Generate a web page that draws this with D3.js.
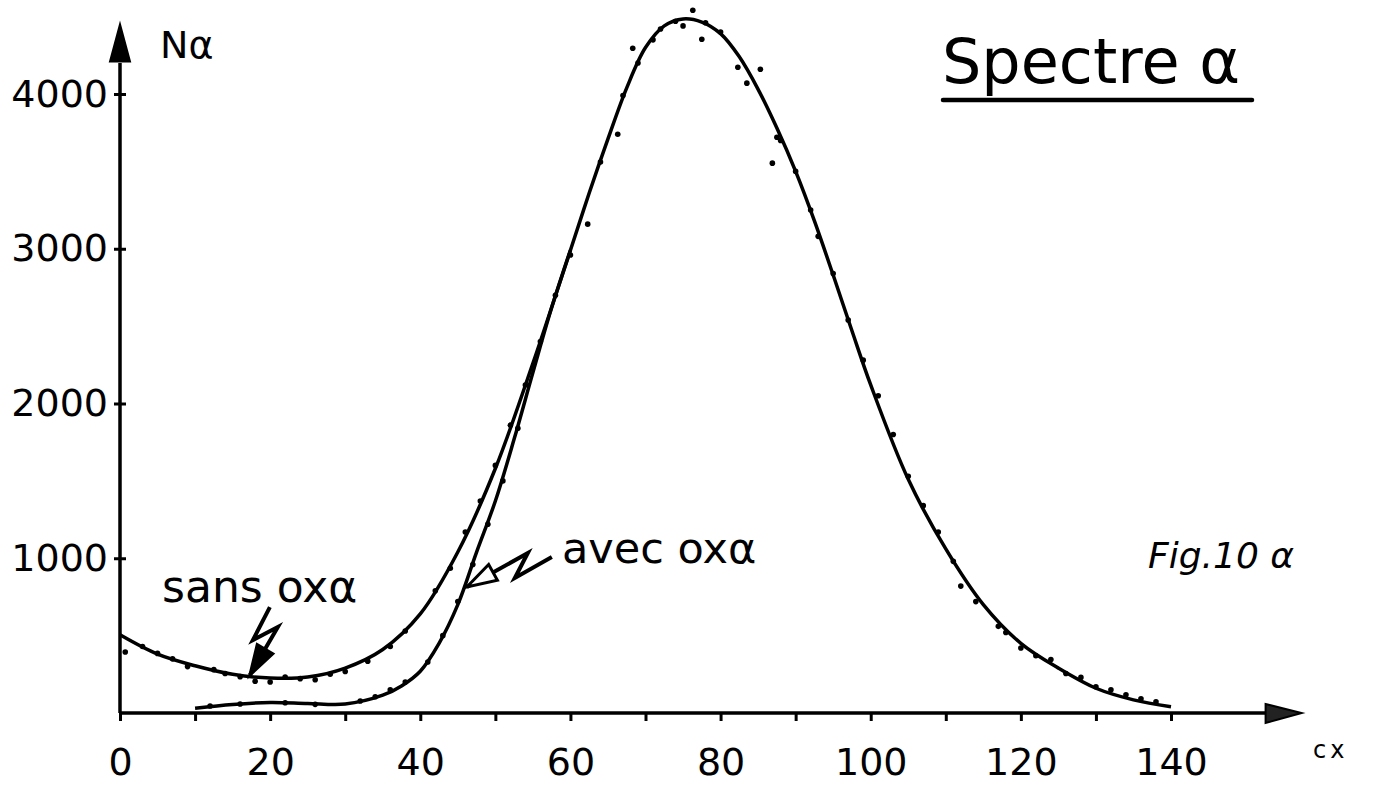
<!DOCTYPE html>
<html>
<head>
<meta charset="utf-8">
<script src="https://cdn.jsdelivr.net/npm/d3@7"></script>
<style>
  body { margin: 0; background: #fff; }
  text { font-family: "DejaVu Sans", sans-serif; fill: #000; }
</style>
</head>
<body>
<div id="chart"></div>
<script>
// channel numbers (cx) sampled along the "sans ox alpha" curve
const curveCx = [0, 5, 10, 15, 20, 25, 30, 35, 40, 45, 50, 55, 60, 62.5, 65, 67.5, 70, 72.5, 75, 77.5, 80, 82.5, 85, 87.5, 90, 92.5, 95, 97.5, 100, 105, 110, 115, 120, 125, 130, 135, 140];
const sansCurve = [505, 380, 305, 250, 226, 232, 290, 410, 640, 1040, 1580, 2260, 2990, 3360, 3710, 4040, 4300, 4440, 4485, 4465, 4390, 4240, 4030, 3780, 3500, 3180, 2830, 2470, 2120, 1510, 1060, 700, 450, 290, 160, 85, 40];
// "avec ox alpha" curve (starts at cx 10, joins the other near 58)
const avecCx = [10, 15, 20, 25, 30, 35, 37.5, 40, 42.5, 45, 47.5, 50, 52.5, 55, 57.5, 60];
const avecCurve = [30, 55, 68, 62, 58, 115, 175, 270, 450, 700, 1040, 1370, 1770, 2200, 2620, 2990];

// measured points
const sansPts = [[0.7, 394], [3, 430], [5, 385], [7, 350], [9, 300], [12.5, 280], [14, 255], [16, 235], [18, 205], [20, 200], [22, 232], [24, 222], [26, 215], [28, 250], [30, 268], [33, 335], [36, 430], [38, 530], [42, 790], [44, 935], [46, 1170], [48, 1370], [50, 1600], [52, 1860], [54, 2120], [56, 2400], [58, 2700], [60, 2960], [62.3, 3159], [64, 3560], [66.3, 3740], [67, 3990], [68.3, 4296], [69, 4200], [71, 4350], [72, 4420], [74, 4470], [75, 4440], [76.3, 4541], [77.5, 4354], [78, 4460], [80, 4400], [82.3, 4173], [83.5, 4070], [85.3, 4160], [86.9, 3553], [87.5, 3721], [88, 3700], [90, 3500], [92, 3250], [93, 3080], [95, 2840], [97, 2540], [99, 2280], [101, 2050], [103, 1800], [105, 1530], [107, 1340], [109, 1170], [111, 980], [112, 820], [114, 720], [117, 560], [118, 520], [120, 420], [122, 370], [124, 345], [126, 255], [128, 230], [130, 170], [132, 150], [134, 118], [136, 92], [138, 72]];
const avecPts = [[12, 45], [16, 58], [22, 66], [26, 56], [32, 78], [34, 105], [36, 150], [38, 200], [41, 330], [43, 500], [45, 720], [47, 960], [49, 1220], [51, 1500], [53, 1840]];

const xTicks = d3.range(0, 141, 10);
const yTicks = [1000, 2000, 3000, 4000];

const W = 1373, H = 789;
const svg = d3.select("#chart").append("svg")
  .attr("width", W).attr("height", H);

const x = d3.scaleLinear().domain([0, 140]).range([120, 1171]);
const y = d3.scaleLinear().domain([0, 4000]).range([713, 94]);

// X axis
const xAxis = svg.append("g")
  .attr("transform", `translate(0,${y(0)})`)
  .call(d3.axisBottom(x).tickValues(xTicks).tickSize(8).tickSizeOuter(0).tickPadding(27)
    .tickFormat(d => d % 20 === 0 ? d : ""));
xAxis.select(".domain").remove();
xAxis.selectAll("line").attr("stroke", "#000").attr("stroke-width", 3);
xAxis.selectAll("text").style("font-size", "38px").attr("fill", "#000");

// Y axis
const yAxis = svg.append("g")
  .attr("transform", `translate(${x(0)},0)`)
  .call(d3.axisLeft(y).tickValues(yTicks).tickSize(7).tickPadding(5).tickSizeOuter(0)
    .tickFormat(d3.format("d")));
yAxis.select(".domain").remove();
yAxis.selectAll("line").attr("x2", -6).attr("x1", 6).attr("stroke", "#000").attr("stroke-width", 3);
yAxis.selectAll("text").style("font-size", "38px").attr("fill", "#000").attr("x", -12);

// axis lines with arrows
svg.append("line")
  .attr("x1", x(0)).attr("x2", x(153)).attr("y1", y(0)).attr("y2", y(0))
  .attr("stroke", "#000").attr("stroke-width", 3.5);
svg.append("path")
  .attr("d", `M${x(152.6)},${y(0) - 9} L${x(157.4)},${y(0)} L${x(152.6)},${y(0) + 10} Z`)
  .attr("fill", "#222").attr("stroke", "#000").attr("stroke-width", 2);
svg.append("line")
  .attr("x1", x(0)).attr("x2", x(0)).attr("y1", y(0)).attr("y2", y(4200))
  .attr("stroke", "#000").attr("stroke-width", 3.5);
svg.append("path")
  .attr("d", `M${x(0) - 10},${y(4210)} L${x(0)},${y(4450)} L${x(0) + 10},${y(4210)} Z`)
  .attr("fill", "#000").attr("stroke", "#000").attr("stroke-width", 2);

// curves
const line = d3.line().x(d => x(d[0])).y(d => y(d[1])).curve(d3.curveCatmullRom.alpha(0.5));
svg.append("path")
  .datum(d3.zip(curveCx, sansCurve))
  .attr("d", line).attr("fill", "none").attr("stroke", "#000").attr("stroke-width", 3.5);
svg.append("path")
  .datum(d3.zip(avecCx, avecCurve))
  .attr("d", line).attr("fill", "none").attr("stroke", "#000").attr("stroke-width", 3.5);

// points
svg.selectAll(".pt")
  .data(sansPts.concat(avecPts))
  .join("circle")
  .attr("cx", d => x(d[0])).attr("cy", d => y(d[1]))
  .attr("r", 2.8).attr("fill", "#000");

// labels
svg.append("text").attr("x", 160).attr("y", 58).style("font-size", "38px").text("N\u03b1");
svg.append("text").attr("x", 1313).attr("y", 758).style("font-size", "24px")
  .attr("fill", "#333").style("letter-spacing", "4px").text("cx");

svg.append("text").attr("x", 942).attr("y", 83).style("font-size", "62px").text("Spectre \u03b1");
svg.append("line").attr("x1", 943).attr("x2", 1252).attr("y1", 100).attr("y2", 100)
  .attr("stroke", "#000").attr("stroke-width", 4.5).attr("stroke-linecap", "round");

svg.append("text").attr("x", 1148).attr("y", 568).style("font-size", "36px")
  .style("font-style", "italic").style("font-weight", "300").attr("fill", "#555")
  .text("Fig.10 \u03b1");

svg.append("text").attr("x", 162).attr("y", 602).style("font-size", "44px").text("sans ox\u03b1");
svg.append("text").attr("x", 562).attr("y", 563).style("font-size", "43px").text("avec ox\u03b1");

// lightning arrows pointing to each curve
function bolt(tipCx, tipN, pts, hollow) {
  const tx = x(tipCx), ty = y(tipN);
  const p = pts.map(d => [tx + d[0], ty + d[1]]).concat([[tx, ty]]);
  svg.append("path").attr("d", d3.line()(p))
    .attr("fill", "none").attr("stroke", "#000").attr("stroke-width", 4)
    .attr("stroke-linejoin", "miter");
  const a = p[p.length - 2];
  const dx = tx - a[0], dy = ty - a[1], len = Math.hypot(dx, dy);
  const ux = dx / len, uy = dy / len, L = 30, Wd = 9;
  const bx = tx - ux * L, by = ty - uy * L;
  svg.append("path")
    .attr("d", `M${tx},${ty} L${bx - uy * Wd},${by + ux * Wd} L${bx + uy * Wd},${by - ux * Wd} Z`)
    .attr("fill", hollow ? "#fff" : "#000").attr("stroke", "#000").attr("stroke-width", 3);
}
bolt(17.3, 245, [[20, -68], [3, -35], [28, -48]], false);
bolt(46.2, 814, [[85, -30], [48, -9], [61, -34]], true);
</script>
</body>
</html>
